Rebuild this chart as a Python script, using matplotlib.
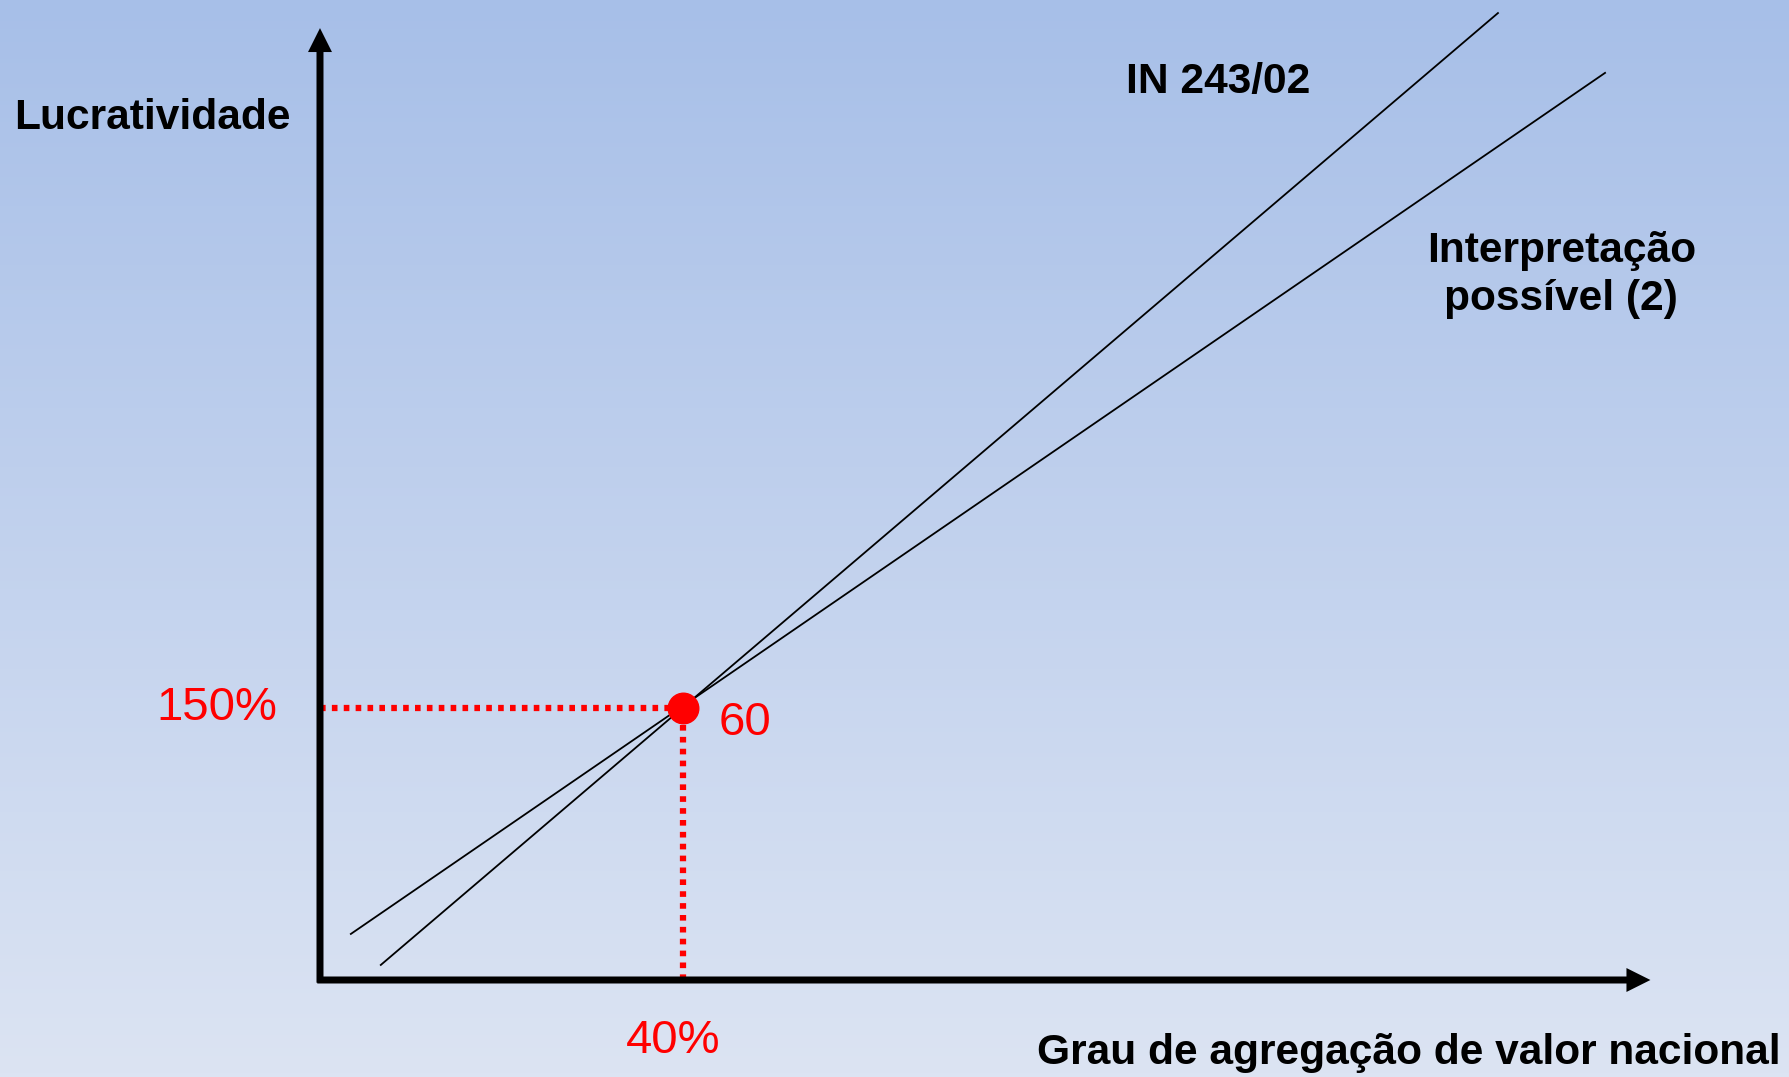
import matplotlib.pyplot as plt
import numpy as np

# dados do esquema (x = grau de agregação %, y = lucratividade %)
ponto_x = 40
ponto_y = 150
in243_x = [6.7, 129.8]
in243_y = [8.3, 533.3]
interp_x = [3.4, 141.6]
interp_y = [25.4, 500.3]
eixo_x_fim = 146.6
eixo_y_fim = 525.0

W, H = 1789, 1077
fig = plt.figure(figsize=(W / 100, H / 100), dpi=100)
ax = fig.add_axes([0, 0, 1, 1])
ax.set_xlim(-35.26, 161.87)
ax.set_ylim(-53.5, 540.5)
ax.axis('off')

# fundo em degradê
topo = np.array([167, 191, 232]) / 255
base = np.array([220, 228, 243]) / 255
t = np.linspace(0, 1, 256)[:, None]
grad = (topo * (1 - t) + base * t)[:, None, :]
ax.imshow(grad, extent=[-35.26, 161.87, -53.5, 540.5], aspect='auto', zorder=0)

# eixos com setas
ax.arrow(0, -1.5, 0, eixo_y_fim + 1.5, width=0.77, head_width=2.64, head_length=13.2,
         length_includes_head=True, color='black', lw=0, zorder=3)
ax.arrow(-0.3, 0, eixo_x_fim + 0.3, 0, width=3.86, head_width=13.2, head_length=2.64,
         length_includes_head=True, color='black', lw=0, zorder=3)

# retas
ax.plot(in243_x, in243_y, color='black', lw=1.3, zorder=2)
ax.plot(interp_x, interp_y, color='black', lw=1.3, zorder=2)

# linhas pontilhadas e ponto
ax.plot([0, ponto_x], [ponto_y, ponto_y], color='red', lw=4.5,
        linestyle=(0, (0.9, 1.0)), dash_capstyle='butt', zorder=2)
ax.plot([ponto_x, ponto_x], [0, ponto_y], color='red', lw=4.5,
        linestyle=(0, (0.9, 1.0)), dash_capstyle='butt', zorder=2)
ax.plot([ponto_x], [ponto_y], 'o', color='red', markersize=22, zorder=4)

fonte = 'Liberation Sans'
ax.text(-4.7, 143.4, '150%', color='red', fontsize=34, family=fonte,
        ha='right', va='baseline')
ax.text(43.9, 135.1, '60', color='red', fontsize=34, family=fonte,
        ha='left', va='baseline')
ax.text(38.95, -40.3, '40%', color='red', fontsize=34, family=fonte,
        ha='center', va='baseline')

def px(x, y):
    return x / W, 1 - y / H

fs = 30.6
fig.text(*px(14, 129), 'Lucratividade', fontsize=fs, weight='bold', family=fonte,
         ha='left', va='baseline')
fig.text(*px(1126, 93), 'IN 243/02', fontsize=fs, weight='bold', family=fonte,
         ha='left', va='baseline')
fig.text(*px(1562, 262), 'Interpretação', fontsize=fs, weight='bold', family=fonte,
         ha='center', va='baseline')
fig.text(*px(1561, 310), 'possível (2)', fontsize=fs, weight='bold', family=fonte,
         ha='center', va='baseline')
fig.text(*px(1781, 1064), 'Grau de agregação de valor nacional', fontsize=fs,
         weight='bold', family=fonte, ha='right', va='baseline')

fig.savefig('out.png', dpi=100)
